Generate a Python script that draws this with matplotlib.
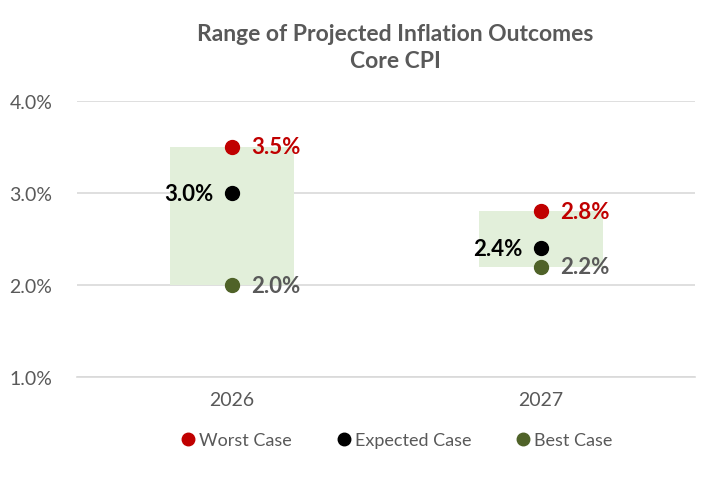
import matplotlib
matplotlib.use('Agg')
import matplotlib.pyplot as plt
from matplotlib.patches import Rectangle
from matplotlib.lines import Line2D
from matplotlib.ticker import FuncFormatter

plt.rcParams['font.family'] = ['Lato', 'DejaVu Sans']

# data
years = ['2026', '2027']
worst = [3.5, 2.8]
expected = [3.0, 2.4]
best = [2.0, 2.2]

red = '#C00000'
green = '#4F6228'
box_col = '#E2EFDA'
grey = '#595959'

fig = plt.figure(figsize=(7.22, 4.81), dpi=100)
ax = fig.add_axes([0.107, 0.214, 0.856, 0.574])

x = list(range(len(years)))
box_w = 0.40
for i in x:
    ax.add_patch(Rectangle((i - box_w / 2, best[i]), box_w, worst[i] - best[i],
                           facecolor=box_col, edgecolor='none', zorder=1))

ax.plot(x, worst, 'o', color=red, ms=10, zorder=3)
ax.plot(x, expected, 'o', color='black', ms=10, zorder=3)
ax.plot(x, best, 'o', color=green, ms=10, zorder=3)

for i in x:
    ax.annotate(f'{worst[i]:.1f}%', (i, worst[i]), xytext=(14, 0), textcoords='offset points',
                ha='left', va='center', color=red, fontsize=16, fontweight='bold')
    ax.annotate(f'{expected[i]:.1f}%', (i, expected[i]), xytext=(-13, 0), textcoords='offset points',
                ha='right', va='center', color='black', fontsize=16, fontweight='bold')
    ax.annotate(f'{best[i]:.1f}%', (i, best[i]), xytext=(14, 0), textcoords='offset points',
                ha='left', va='center', color=grey, fontsize=16, fontweight='bold')

ax.set_xlim(-0.5, 1.5)
ax.set_ylim(1.0, 4.0)
ax.set_yticks([1.0, 2.0, 3.0, 4.0])
ax.yaxis.set_major_formatter(FuncFormatter(lambda v, p: f'{v:.1f}%'))
ax.set_xticks(x)
ax.set_xticklabels(years)
ax.tick_params(axis='both', length=0, labelsize=14, colors=grey, pad=10)
ax.tick_params(axis='y', pad=18)
ax.grid(axis='y', color='#D9D9D9', lw=1.2, zorder=0)
ax.set_axisbelow(True)
for s in ['top', 'right', 'left']:
    ax.spines[s].set_visible(False)
ax.spines['bottom'].set_color('#D9D9D9')
ax.spines['bottom'].set_linewidth(1.2)

fig.text(0.548, 0.90, 'Range of Projected Inflation Outcomes\nCore CPI', ha='center', va='center',
         fontsize=16.5, fontweight='bold', color=grey, linespacing=1.35)

handles = [Line2D([], [], marker='o', ls='none', color=c, ms=9) for c in [red, 'black', green]]
fig.legend(handles, ['Worst Case', 'Expected Case', 'Best Case'], loc='center',
           bbox_to_anchor=(0.548, 0.083), ncol=3, frameon=False, fontsize=13,
           labelcolor=grey, handletextpad=0.1, columnspacing=2.4, handlelength=1.0)

fig.savefig('out.png', dpi=100)
